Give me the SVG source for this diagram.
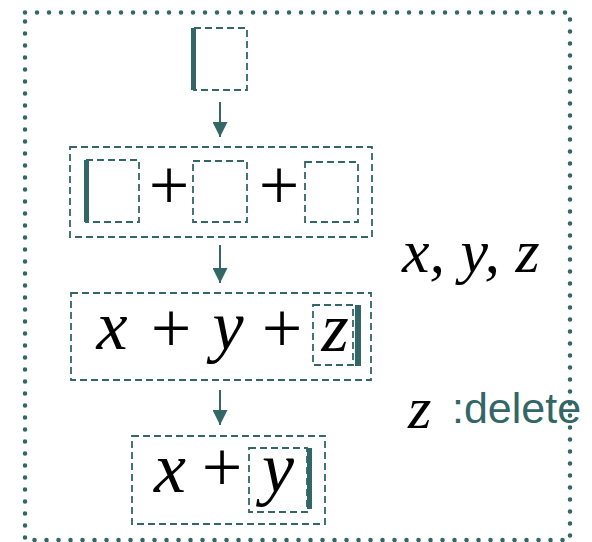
<svg xmlns="http://www.w3.org/2000/svg" width="592" height="542" viewBox="0 0 592 542">
<style>
.dash{fill:none;stroke:#336666;stroke-width:1.8;stroke-dasharray:7 4}
.bar{fill:#336666}
.m{font-family:'Liberation Serif','Times New Roman',serif;font-style:italic;fill:#000}
.p{font-family:'Liberation Serif','Times New Roman',serif;fill:#000;text-anchor:middle}
.c{stroke:#336666;stroke-width:2;fill:none}
</style>
<defs>
<marker id="ah" markerWidth="15" markerHeight="15" refX="15" refY="7.5" orient="auto" markerUnits="userSpaceOnUse">
<path d="M0,0 L15,7.5 L0,15 Z" fill="#336666"/>
</marker>
</defs>
<rect x="25" y="12.5" width="545" height="527.5" fill="none" stroke="#336666" stroke-width="4.5" stroke-linecap="round" stroke-dasharray="0 12"/>
<g id="n1">
<rect class="dash" x="194" y="28" width="53" height="62"/>
<rect class="bar" x="191" y="28" width="5" height="62"/>
</g>
<g id="n2">
<rect class="dash" x="70" y="147" width="302" height="90"/>
<rect class="dash" x="86" y="160" width="53" height="62"/>
<rect class="bar" x="84" y="160" width="5" height="62"/>
<text class="p" x="169" y="209" font-size="72">+</text>
<rect class="dash" x="193" y="161" width="54" height="61"/>
<text class="p" x="279" y="209" font-size="72">+</text>
<rect class="dash" x="305" y="162" width="53" height="60"/>
</g>
<g id="n3">
<rect class="dash" x="71" y="293" width="300" height="87"/>
<text class="m" x="112" y="349" font-size="70" text-anchor="middle">x</text>
<text class="p" x="171" y="352" font-size="72">+</text>
<text class="m" x="228" y="349" font-size="70" text-anchor="middle">y</text>
<text class="p" x="282" y="352" font-size="72">+</text>
<rect class="dash" x="313" y="305" width="40" height="60"/>
<text class="m" x="335" y="351" font-size="70" text-anchor="middle">z</text>
<rect class="bar" x="355" y="305" width="6" height="61"/>
</g>
<g id="n4">
<rect class="dash" x="132" y="436" width="193" height="88"/>
<text class="m" x="170" y="492" font-size="72" text-anchor="middle">x</text>
<text class="p" x="222" y="491" font-size="72">+</text>
<rect class="dash" x="249" y="448" width="58" height="64"/>
<text class="m" x="278" y="492" font-size="72" text-anchor="middle">y</text>
<rect class="bar" x="307" y="448" width="5" height="61"/>
</g>
<g id="vars">
<text class="m" x="402" y="272" font-size="62">x, y, z</text>
</g>
<g id="del">
<text class="m" x="408" y="428" font-size="60">z</text>
<text x="452" y="423" font-family="'Liberation Sans', Arial, sans-serif" font-size="43" fill="#336666">:delete</text>
</g>
<g id="connectors">
<line class="c" x1="220" y1="102" x2="220" y2="137" marker-end="url(#ah)"/>
<line class="c" x1="220" y1="245" x2="220" y2="283" marker-end="url(#ah)"/>
<line class="c" x1="220" y1="390" x2="220" y2="425" marker-end="url(#ah)"/>
</g>
</svg>
